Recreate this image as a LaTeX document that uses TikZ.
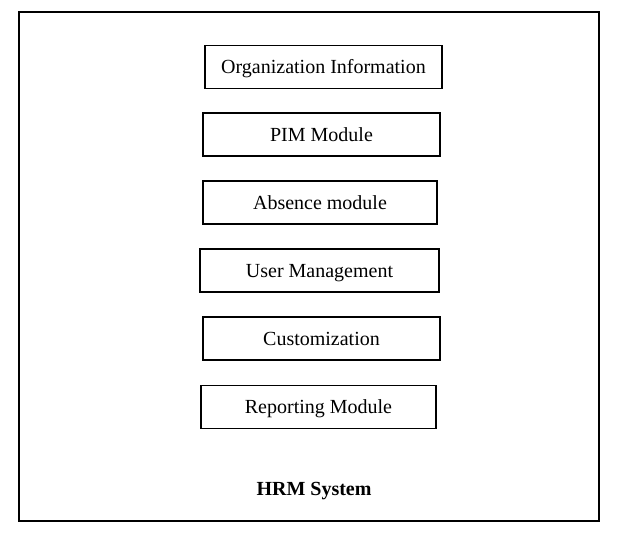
\documentclass[tikz,border=0pt]{standalone}
\usepackage{fontspec}
\setmainfont{Liberation Serif}
\usepackage{tikz}

\begin{document}
\begin{tikzpicture}[x=1pt, y=1pt,
modbox/.style={draw, line width=1.2pt, minimum height=43pt, inner sep=0pt, text height=13.2pt, text depth=0pt, font=\fontsize{20}{22}\selectfont}]
\useasboundingbox (0,0) rectangle (621,538);
\draw[line width=1.2pt] (19,17) rectangle (599,526);
\node[modbox, minimum width=237pt] (org) at (323.5,471) {Organization Information};
\node[modbox, minimum width=237pt] (pim) at (321.5,403.5) {PIM Module};
\node[modbox, minimum width=234pt] (absence) at (320,335.5) {Absence module};
\node[modbox, minimum width=239pt] (user) at (319.5,267.5) {User Management};
\node[modbox, minimum width=237pt] (custom) at (321.5,199.5) {Customization};
\node[modbox, minimum width=235pt] (report) at (318.5,131) {Reporting Module};
\node[font=\bfseries\fontsize{20}{22}\selectfont, text height=13.2pt, text depth=0pt, inner sep=0pt] (hrm) at (314,49) {HRM System};
\end{tikzpicture}
\end{document}
